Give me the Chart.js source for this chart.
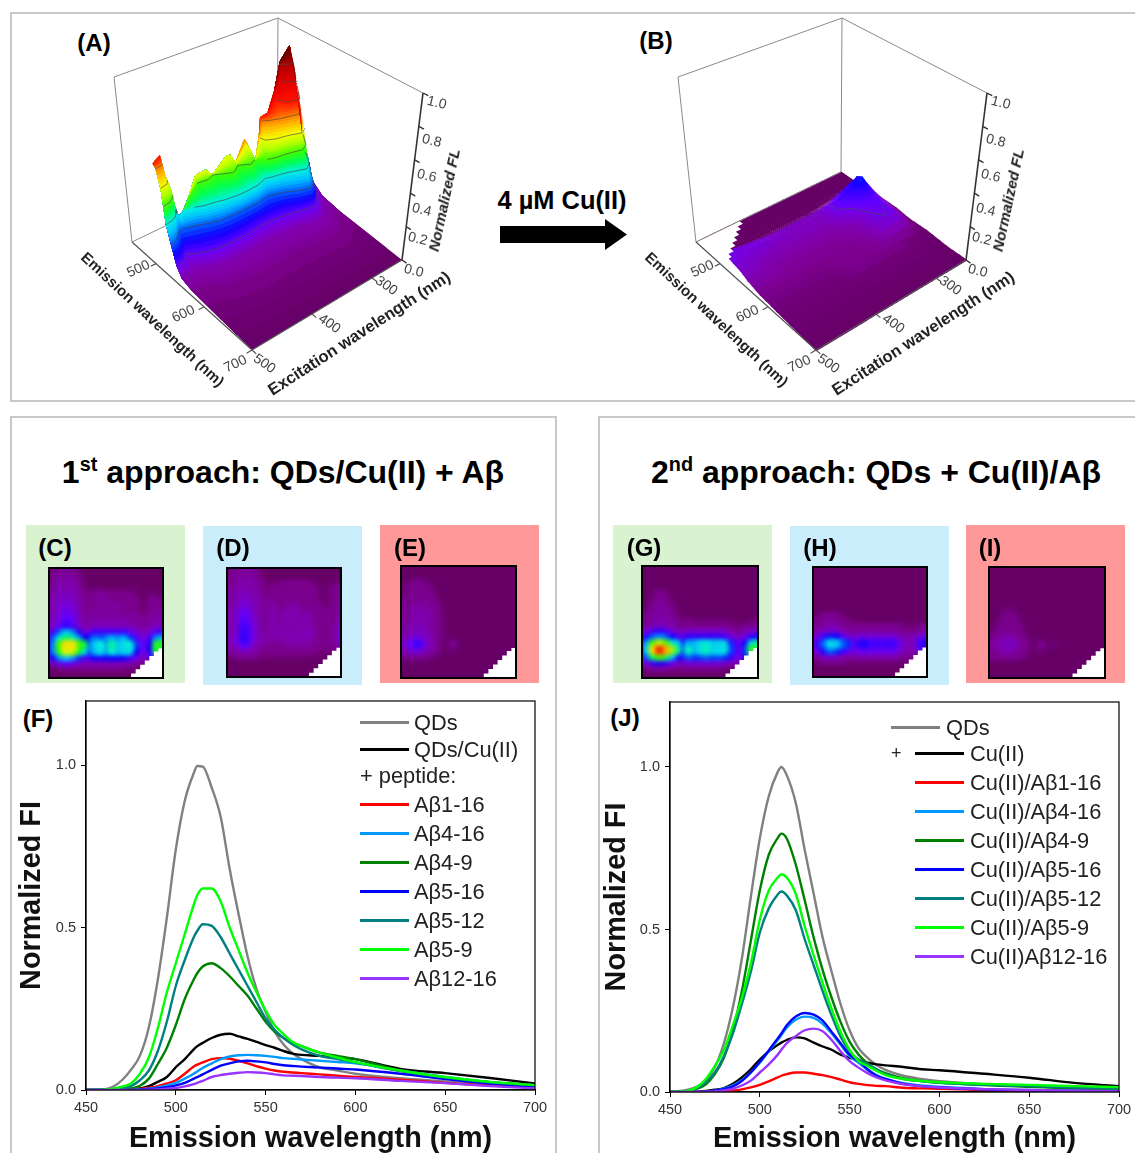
<!DOCTYPE html>
<html><head><meta charset="utf-8">
<script src="https://cdn.jsdelivr.net/npm/chart.js@4"></script>
<style>
html,body{margin:0;padding:0;background:#fff;overflow:hidden}
#page{position:relative;width:1135px;height:1153px;overflow:hidden;font-family:"Liberation Sans",Arial,sans-serif;color:#000}
.abs{position:absolute;box-sizing:border-box}
.t{position:absolute;white-space:nowrap;line-height:1;transform-origin:center}
canvas{position:absolute;display:block}
sup{font-size:62%;line-height:0}
</style></head><body><div id="page"></div>
<script>
/* ---------- spectra data ---------- */
const wavelengths=[450,460,465,470,475,480,485,490,495,500,505,510,512,515,520,525,530,535,540,545,550,555,560,565,570,580,590,600,625,650,675,700];
const F_QDs=[0,.002,.01,.03,.062,.105,.193,.34,.53,.74,.89,.975,.997,.995,.93,.84,.68,.54,.41,.31,.24,.18,.14,.113,.095,.07,.06,.05,.036,.026,.016,.01];
const F_QDsCu=[0,0,0,.001,.003,.005,.012,.025,.04,.07,.095,.125,.135,.145,.16,.17,.173,.165,.157,.148,.138,.13,.12,.112,.108,.105,.1,.095,.065,.052,.037,.02];
const F_A1_16=[0,0,0,0,.001,.003,.007,.012,.02,.03,.05,.072,.078,.085,.095,.098,.096,.09,.082,.073,.066,.06,.056,.054,.052,.048,.044,.04,.032,.022,.014,.01];
const F_A4_16=[0,0,0,0,.001,.002,.004,.008,.014,.022,.035,.05,.057,.068,.082,.095,.103,.107,.108,.107,.105,.102,.098,.096,.094,.09,.086,.082,.06,.04,.024,.012];
const F_A4_9=[0,0,.001,.002,.005,.013,.035,.08,.13,.2,.28,.34,.36,.38,.39,.375,.35,.32,.29,.25,.21,.18,.16,.145,.135,.115,.105,.095,.06,.036,.024,.015];
const F_A5_16=[0,0,0,0,0,.001,.003,.005,.009,.014,.022,.035,.04,.048,.062,.075,.082,.088,.09,.088,.085,.08,.076,.074,.072,.069,.066,.063,.05,.034,.02,.01];
const F_A5_12=[0,.001,.002,.005,.012,.03,.06,.12,.21,.32,.4,.47,.49,.51,.505,.47,.42,.37,.32,.27,.22,.185,.16,.14,.125,.105,.095,.085,.058,.038,.024,.014];
const F_A5_9=[0,.001,.004,.01,.02,.05,.1,.19,.3,.39,.48,.57,.6,.62,.62,.58,.5,.43,.36,.3,.245,.2,.172,.148,.135,.115,.1,.086,.06,.04,.025,.015];
const F_A12_16=[0,0,0,0,0,0,.001,.002,.004,.006,.011,.018,.022,.028,.04,.046,.05,.053,.055,.054,.052,.048,.045,.044,.043,.04,.038,.036,.028,.021,.012,.005];

const J_QDs=[0,.007,.017,.035,.077,.15,.26,.41,.6,.78,.91,.985,1,.975,.89,.745,.61,.475,.37,.27,.19,.135,.105,.083,.068,.05,.04,.033,.024,.018,.01,.005];
const J_Cu=[0,0,.001,.003,.007,.012,.025,.045,.07,.1,.125,.145,.152,.16,.168,.165,.152,.14,.13,.115,.105,.098,.09,.085,.082,.077,.07,.067,.056,.044,.028,.018];
const J_A1_16=[0,0,0,0,.001,.002,.004,.008,.014,.022,.033,.045,.05,.055,.06,.06,.056,.052,.046,.038,.03,.025,.021,.019,.018,.013,.011,.01,.006,.004,.002,.001];
const J_A4_16=[0,0,0,.001,.004,.01,.02,.036,.06,.09,.125,.16,.175,.198,.222,.232,.228,.21,.18,.145,.11,.09,.068,.052,.04,.027,.02,.016,.009,.006,.004,.002];
const J_A4_9=[0,.003,.01,.024,.055,.105,.19,.31,.465,.62,.73,.782,.795,.78,.7,.59,.475,.375,.29,.215,.155,.115,.088,.07,.058,.042,.034,.029,.021,.016,.012,.008];
const J_A5_16=[0,0,0,.001,.004,.009,.017,.034,.06,.093,.128,.165,.18,.205,.232,.243,.238,.22,.185,.15,.115,.095,.07,.05,.04,.025,.018,.014,.008,.005,.003,.002];
const J_A5_12=[0,.004,.012,.03,.06,.11,.18,.27,.37,.49,.565,.608,.617,.605,.56,.47,.39,.31,.235,.17,.125,.1,.085,.07,.055,.04,.033,.028,.022,.018,.014,.01];
const J_A5_9=[0,.004,.015,.04,.08,.13,.205,.29,.395,.53,.62,.66,.67,.66,.61,.51,.42,.335,.255,.185,.13,.095,.08,.065,.052,.04,.034,.03,.025,.022,.018,.015];
const J_A12_16=[0,0,0,0,.002,.005,.01,.02,.035,.06,.085,.115,.13,.15,.172,.19,.195,.187,.16,.125,.095,.075,.058,.045,.036,.024,.018,.014,.009,.006,.004,.002];

const colGrey='#808080',colBlack='#000000',colRed='#ff0000',colSky='#0099ff',colDkGreen='#008000',colBlue='#0000ff',colTeal='#008080',colLime='#00ff00',colPurple='#9933ff';
const F_names=['QDs','QDs/Cu(II)','Aβ1-16','Aβ4-16','Aβ4-9','Aβ5-16','Aβ5-12','Aβ5-9','Aβ12-16'];
const J_names=['QDs','Cu(II)','Cu(II)/Aβ1-16','Cu(II)/Aβ4-16','Cu(II)/Aβ4-9','Cu(II)/Aβ5-16','Cu(II)/Aβ5-12','Cu(II)/Aβ5-9','Cu(II)Aβ12-16'];
const seriesColors=[colGrey,colBlack,colRed,colSky,colDkGreen,colBlue,colTeal,colLime,colPurple];
const xTicks=[450,500,550,600,650,700], yTicks=[0,0.5,1];

/* ---------- 2D map data: rows emission 700→450 (12.5 nm), columns excitation 250→500 (12.5 nm), value ×100 ---------- */
const mapC=[[0,2,3,3,3,1],[0,3,3,4,3,2],[1,3,4,4,4,3,1],[1,3,5,5,5,3,2],
[2,4,5,5,5,4,2,1,1,2,1,1,1,1,1,1],[2,4,6,6,6,4,3,3,3,4,3,3,3,3,3,2,1,1,2,1,1],[3,5,6,7,6,5,3,3,3,4,3,3,3,3,3,3,1,1,3,3,2],
[3,5,7,8,7,5,3,3,3,4,4,3,4,3,3,3,2,1,3,3,3],[3,5,7,9,8,5,3,3,4,4,4,4,4,3,3,3,2,1,3,4,4],[3,6,8,10,9,6,4,4,4,4,4,4,4,4,4,4,3,3,4,4,4],
[4,6,8,11,9,6,4,4,5,5,5,5,5,5,4,4,4,3,4,5,5],[5,7,10,13,11,7,5,5,6,6,6,6,6,6,5,5,4,4,5,6,6],[7,12,20,26,22,14,8,9,12,12,12,12,12,12,10,8,6,6,8,11,12],
[10,20,30,34,31,23,15,15,21,19,21,24,21,24,18,11,8,8,12,22,24],[14,22,40,52,52,40,35,18,25,30,22,32,25,28,30,18,10,9,15,38,35],[12,22,38,48,46,36,28,17,24,28,22,30,24,27,28,15,9,8,14,36,38],
[9,15,23,26,23,17,11,11,15,13,15,15,15,15,12,9,6,6,10,18,20],[4,6,9,10,9,7,5,5,6,6,6,6,6,5,5,4,3,3,4,6,6],[0,1,2,3,3,3,3,3,3,3,3,3,3,3,2,2,1,1,1],[],[]];
const mapD=[[0,2,3,3,3,2],[1,3,3,4,4,3,1],[2,3,4,4,4,3,2],[2,3,4,5,5,4,3,1,2,2,3,3,3,3,3,2,1,0,1,2,2],
[2,4,5,5,5,4,3,2,3,3,3,3,3,3,3,3,2,1,2,3,3],[3,4,5,6,5,5,3,2,3,3,3,3,3,3,3,3,2,1,2,3,3],[3,4,5,7,6,5,4,3,3,3,3,3,3,3,3,3,2,1,2,3,3],
[3,4,6,8,6,5,4,3,4,3,3,4,4,3,3,3,3,2,2,3,4],[3,5,6,9,7,5,4,3,5,3,4,5,5,3,4,3,3,3,3,3,4],[3,5,7,10,8,5,4,3,5,3,5,5,5,4,5,3,3,3,3,3,4],
[3,5,7,11,8,6,4,3,5,3,5,5,5,4,5,4,3,3,3,3,5],[4,5,7,12,9,6,4,3,5,4,5,5,5,5,5,4,3,3,3,4,6],[4,5,7,12,9,6,4,4,5,5,5,5,5,5,6,4,3,3,3,4,6],
[4,6,8,13,9,6,5,4,4,4,5,5,5,5,5,4,3,3,3,4,6],[4,5,7,10,7,5,4,3,3,3,3,4,4,4,4,3,3,3,3,3,5],[3,4,5,6,5,4,3,3,3,3,3,3,3,3,3,3,2,2,2,3,3],
[1,2,3,3,3,3,2,2,2,2,2,2,2,2,2,1,1],[],[],[],[]];
const mapE=[[],[],[],[0,1,2,3,2,1],[0,2,3,3,3,2],[1,2,3,3,3,3,1],[2,3,3,3,3,3,2],[2,3,3,4,4,3,3,1],[2,3,4,5,4,4,3,1],[3,3,4,5,5,4,3,2],[3,3,4,5,5,4,3,2],
[3,4,5,6,5,4,3,2],[3,4,5,6,6,4,3,2],[4,5,7,8,6,5,3,2,0,1],[5,7,10,12,8,5,3,2,0,3],[4,5,7,7,5,4,3,1,0,1],[2,3,3,3,3,2,1],[0,1,1,1],[],[],[]];
const mapG=[[],[],[],[],[],[0,0,1,3,2],[0,0,2,3,3,1],[0,1,3,4,3,2],[0,2,3,4,4,3,1],[1,3,4,4,4,3,2],
[2,3,4,5,5,4,3,1,3,2,1,2,2,2,2,1,1,0,0,2,2],[3,4,5,6,5,5,3,3,3,3,3,3,3,3,3,3,2,2,3,3,3],[5,8,11,13,11,8,6,5,7,7,7,7,7,7,7,5,4,4,5,7,7],
[9,16,20,23,20,15,11,9,13,13,13,13,13,13,12,9,7,6,9,13,15],[11,24,40,46,40,30,26,15,24,24,28,30,27,27,28,17,11,9,15,28,32],[13,28,52,66,56,44,32,17,31,23,28,31,27,28,29,19,11,9,18,38,36],
[10,20,34,40,34,25,16,13,20,17,18,20,18,19,18,13,9,8,14,24,24],[5,8,12,14,12,9,7,6,8,8,8,8,8,8,7,6,5,4,5,6,6],[1,3,4,4,4,3,3,3,3,3,3,3,3,3,2,2,1,1],[],[]];
const mapH=[[],[],[],[],[],[],[],[],[],[0,1,3,3,3,2],[1,3,3,4,3,3,2,1],[3,3,4,5,5,3,3,3,3,3,3,3,3,3,3,3,2,1,2,3,3],
[3,5,6,7,7,5,4,3,4,4,4,4,4,4,4,3,3,3,3,4,4],[5,8,12,16,15,10,8,6,8,8,8,8,8,8,8,6,5,5,6,8,9],[6,12,20,28,26,20,17,9,12,14,11,12,11,12,12,9,6,5,7,12,14],
[5,9,14,20,17,12,10,7,9,9,9,9,9,9,9,7,5,5,5,9,10],[3,4,6,7,6,5,4,4,5,5,5,5,5,5,5,4,3,3,3,4,4],[1,2,3,3,3,3,2,2,2,2,2,2,2,2,2,2,1,1,1,1],[],[],[]];
const mapI=[[],[],[],[],[],[],[],[],[0,0,0,2,2],[0,0,1,3,3,1],[0,0,2,3,3,2],[0,1,3,3,3,3],[1,2,3,3,3,3,1],[2,3,4,5,5,3,3,1],[3,4,5,6,6,4,3,2,0,3,0,2],[3,3,4,5,4,3,3,1,0,2],[2,3,3,3,3,3,2],[],[],[],[]];
const stairEx=[501,430,430,440,440,450,450,460,460,470,470,480,480,490,490,501];
const stairEm=[449,449,460,460,470,470,480,480,490,490,500,500,510,510,517,517];

/* ---------- surface (A): excitation columns, ridge height, and emission position of each height contour ---------- */
const _=null;
const A_ex=[250,262,275,285,300,308,318,330,332,338,346,355,370,378,385,408,418,435,448,458,465,470,475,482,488,500];
const A_ridge=[.22,.41,.76,1,.92,.75,.63,.62,.51,.37,.45,.53,.41,.47,.475,.40,.45,.44,.33,.265,.25,.32,.43,.52,.65,.62];
const A_ridgeEm=510;
const A_c00=A_ex.map(()=>700);
const A_c03=[575,590,605,610,610,608,606,605,605,605,604,604,604,604,604,604,603,600,598,595,590,585,583,580,578,575];
const A_c05=[540,555,572,578,575,572,570,568,568,567,566,565,566,566,566,567,567,565,562,560,556,552,552,552,554,555];
const A_c10=[520,542,558,563,560,557,555,552,552,551,550,549,550,551,552,552,552,550,547,544,540,536,535,540,544,545];
const A_c20=[512,528,550,555,550,545,540,536,535,534,535,537,537,537,537,536,535,530,525,522,520,520,521,528,532,536];
const A_c30=[_,518,540,547,541,538,535,533,532,530,532,535,536,536,536,533,530,527,522,_,_,512,518,524,526,528];
const A_c40=[_,512,533,538,534,532,531,528,526,_,518,522,514,520,522,511,515,513,_,_,_,_,514,520,523,525];
const A_c50=[_,_,530,536,530,528,526,520,512,_,_,514,_,_,_,_,_,_,_,_,_,_,_,514,520,522];
const A_c60=[_,_,522,528,524,522,518,512,_,_,_,_,_,_,_,_,_,_,_,_,_,_,_,_,514,515];
const A_c70=[_,_,516,530,526,514,_,_,_,_,_,_,_,_,_,_,_,_,_,_,_,_,_,_,_,_];
const A_c80=[_,_,_,525,514,_,_,_,_,_,_,_,_,_,_,_,_,_,_,_,_,_,_,_,_,_];
const A_c90=[_,_,_,518,511,_,_,_,_,_,_,_,_,_,_,_,_,_,_,_,_,_,_,_,_,_];

/* ---------- surface (B): grid of heights ×100 ---------- */
const B_ex=[250,275,300,325,350,375,400,425,450,475,500];
const B_em=[450,465,480,490,500,510,520,530,545,560,585,620,660,700];
const B_z=[
[0,0,0,0,0,0,0,0,0,0,0],[0,0,0,0,0,0,0,0,0,0,0],[0,0,0,0,0,0,0,0,0,0,0],[0,2,1,0,0,0,0,0,0,0,1],
[0,7,5,3,2,2,2,2,2,3,4],[1,15,11,7,6,6,6,6,7,8,9],[2,17,13,10,6,6,6,7,8,8,9],[2,14,12,10,6,6,6,6,7,7,8],
[2,11,10,8,5,5,5,5,5,6,7],[2,10,9,5,4,4,4,4,4,5,5],[1,9,8,4,3,3,3,3,3,3,3],[1,2,3,3,3,3,2,2,2,2,2],[0,1,1,1,1,1,1,1,1,1,1],[0,0,0,0,0,0,0,0,0,0,0]];
const B_stairEx=[500,425,425,434,434,443,443,452,452,461,461,470,470,479,479,488,488,500];
const B_stairEm=[450,450,457,457,464,464,471,471,478,478,485,485,492,492,499,499,506,506];
const B_contourEx=[327,330,311,290,276];
const B_contourEm=[517,533,546,585,560];
const B_contourZ=0.1;

/* ---------- colour scale ---------- */
const cmapV=[0,.02,.03,.05,.08,.10,.15,.2,.25,.3,.35,.4,.45,.5,.55,.6,.65,.7,.8,.9,1];
const cmapC=['#660066','#700078','#7c0090','#8000b0','#7800dc','#6400ff','#1000ff','#0060ff','#00c0ff','#00f0e0','#00ff50','#40ff00','#b0ff00','#f0ff00','#ffc800','#ff8000','#ff4000','#ff1000','#e00000','#b00000','#600000'];
function hex(c){return [1,3,5].map(i=>parseInt(c.substr(i,2),16));}
function cmap(v){v=Math.max(0,Math.min(1,v));let i=0;while(i<cmapV.length-2&&v>cmapV[i+1])i++;
 const f=(v-cmapV[i])/(cmapV[i+1]-cmapV[i]),a=hex(cmapC[i]),b=hex(cmapC[i+1]);
 return 'rgb('+a.map((x,k)=>Math.round(x+(b[k]-x)*f)).join(',')+')';}

/* ---------- page furniture ---------- */
const page=document.getElementById('page');
function box(x,y,w,h,css){const d=document.createElement('div');d.className='abs';d.style.cssText=`left:${x}px;top:${y}px;width:${w}px;height:${h}px;`+(css||'');page.appendChild(d);return d;}
function text(s,cx,cy,size,opt){opt=opt||{};const d=document.createElement('div');d.className='t';d.innerHTML=s;
 d.style.cssText=`left:${cx}px;top:${cy}px;font-size:${size}px;font-weight:${opt.w||'normal'};font-style:${opt.i||'normal'};color:${opt.c||'#000'};`+
 `transform:translate(${opt.left?'0':'-50%'},-50%) rotate(${opt.r||0}deg);`;page.appendChild(d);return d;}
function mk(x,y,w,h){const c=document.createElement('canvas');c.width=w;c.height=h;c.style.left=x+'px';c.style.top=y+'px';c.style.width=w+'px';c.style.height=h+'px';page.appendChild(c);return c;}

box(10,12,1140,390,'border:2px solid #c8c8c8;');
box(10,416,547,760,'border:2px solid #c8c8c8;');
box(598,416,560,760,'border:2px solid #c8c8c8;');
text('1<sup>st</sup> approach: QDs/Cu(II) + Aβ',283,472,32,{w:'bold'});
text('2<sup>nd</sup> approach: QDs + Cu(II)/Aβ',876,472,32,{w:'bold'});
text('4 µM Cu(II)',562,201,25.4,{w:'bold'});
box(500,219,127,31,'background:#000;clip-path:polygon(0 7px,105px 7px,105px 0,127px 15.5px,105px 31px,105px 24px,0 24px);');
const bgGreen='#d9f2d0',bgBlue='#caedfb',bgRed='#ff9999';
[[26,525,159,158,bgGreen],[203,526,159,159,bgBlue],[380,525,159,158,bgRed],[613,525,159,158,bgGreen],[790,526,159,159,bgBlue],[966,525,159,158,bgRed]].forEach(b=>box(b[0],b[1],b[2],b[3],'background:'+b[4]));

/* ---------- heat maps ---------- */
const heatBlur={id:'heatBlur',
 beforeDatasetDraw(ch,a){if(ch.data.datasets[a.index].heat){ch.ctx.save();ch.ctx.filter='blur(1.9px)';}},
 afterDatasetDraw(ch,a){if(ch.data.datasets[a.index].heat){ch.ctx.restore();}}};
function heat(rows,x,y,w,h){
 box(x,y,w,h,'background:#660066;');
 const c=mk(x,y,w,h);
 const pts=[];
 for(let r=0;r<21;r++)for(let k=0;k<21;k++){const v=(rows[r]&&rows[r][k])||0;if(v>0)pts.push({x:250+12.5*k,y:700-12.5*r,v:v/100});}
 pts.sort((a,b)=>a.v-b.v);
 new Chart(c,{type:'line',data:{datasets:[
  {data:stairEx.map((e,i)=>({x:e,y:stairEm[i]})),fill:'shape',backgroundColor:'#fff',borderColor:'#fff',borderWidth:0,pointRadius:0,tension:0},
  {heat:true,data:pts,showLine:false,pointStyle:'rect',pointRadius:6.2,pointBorderWidth:0,pointBackgroundColor:pts.map(p=>cmap(p.v))}
 ]},options:{responsive:false,animation:false,events:[],layout:{padding:0,autoPadding:false},plugins:{legend:{display:false},tooltip:{enabled:false}},
  scales:{x:{type:'linear',display:false,min:250,max:500},y:{type:'linear',display:false,min:450,max:700}}},plugins:[heatBlur]});
 box(x-1,y-1,w+2,h+2,'border:2px solid #000;');
}
heat(mapC,49,568,114,110);heat(mapD,227,568,114,109);heat(mapE,401,566,115,112);
heat(mapG,642,566,116,112);heat(mapH,813,567,114,110);heat(mapI,989,567,116,111);
[['(C)',55,548],['(D)',233,548],['(E)',410,548],['(G)',644,548],['(H)',820,548],['(I)',990,548],['(A)',94,43],['(B)',656,41],['(F)',38,719],['(J)',625,718]].forEach(l=>text(l[0],l[1],l[2],24,{w:'bold'}));

/* ---------- 3-D projection ---------- */
const cB=[277,172],cR=[402,260],cL=[132,242],cF=[252,350];
const uB=[1,-154],uR=[21,-167],uL=[-18,-165],uF=[2,-180];
function bil(a,b,c,d,s,t){return [0,1].map(i=>(1-s)*(1-t)*a[i]+(1-s)*t*b[i]+s*(1-t)*c[i]+s*t*d[i]);}
function project(ex,em,z){const s=(ex-250)/250,t=(em-450)/250,p=bil(cB,cR,cL,cF,s,t),u=bil(uB,uR,uL,uF,s,t);return {x:p[0]+z*u[0],y:p[1]+z*u[1]};}
function lineDs(pts,color,w){return {data:pts,borderColor:color,borderWidth:w,pointRadius:0,tension:0,fill:false,spanGaps:false};}
function polyDs(pts,color){return {data:pts,borderColor:color,backgroundColor:color,borderWidth:0,pointRadius:0,tension:0,fill:'shape'};}
function backBox(){const d=[];const c='#8a8a8a';
 d.push(lineDs([project(500,450,0),project(500,450,1)],c,1));
 d.push(lineDs([project(500,450,1),project(250,450,1)],c,1));
 d.push(lineDs([project(250,450,1),project(250,700,1)],c,1));
 d.push(lineDs([project(250,450,0),project(250,450,1)],c,1));
 d.push(lineDs([project(500,450,0),project(250,450,0)],c,1));
 return d;}
function frontAxes(){const d=[];const c='#555555',k='#333333';
 d.push(lineDs([project(500,450,0),project(500,700,0)],c,1.2));
 d.push(lineDs([project(500,700,0),project(250,700,0)],c,1.2));
 d.push(lineDs([project(250,700,0),project(250,700,1)],k,1.6));
 [500,600,700].forEach(e=>d.push(lineDs([project(500,e,0),project(509,e,0)],c,1.2)));
 [500,400,300].forEach(e=>d.push(lineDs([project(e,700,0),project(e,709,0)],c,1.2)));
 [0,.2,.4,.6,.8,1].forEach(z=>d.push(lineDs([project(250,700,z),project(250,709,z)],k,1.4)));
 return d;}
function surfChart(x,datasets){const c=mk(x,15,400,385);c.style.filter='blur(0.45px)';
 new Chart(c,{type:'line',data:{datasets:datasets.slice().reverse()},options:{responsive:false,animation:false,events:[],layout:{padding:0,autoPadding:false},
  plugins:{legend:{display:false},tooltip:{enabled:false}},
  scales:{x:{type:'linear',display:false,min:60,max:460},y:{type:'linear',display:false,min:15,max:400,reverse:true}}}});}

/* A */
(function(){
 const lev=[0,.03,.05,.1,.2,.3,.4,.5,.6,.7,.8,.9,1];
 const rows=[A_c00,A_c03,A_c05,A_c10,A_c20,A_c30,A_c40,A_c50,A_c60,A_c70,A_c80,A_c90,A_ex.map(()=>null)];
 const pt=(k,i)=>{const v=rows[k][i];return (v==null||A_ridge[i]<lev[k])?project(A_ex[i],A_ridgeEm,A_ridge[i]):project(A_ex[i],v,lev[k]);};
 const last=A_ex.length-1,T=lev.length-1;
 const d=backBox();
 for(let k=0;k<T;k++){const n=lev[k]>=.1?6:4;
  for(let q=0;q<n;q++){const f0=q/n,path=[];
   A_ex.forEach((e,i)=>{const a=pt(k,i),b=pt(k+1,i);path.push({x:a.x+(b.x-a.x)*f0,y:a.y+(b.y-a.y)*f0});});
   for(let j=k+1;j<T;j++)path.push(pt(j,last));
   for(let i=last;i>=0;i--)path.push(pt(T,i));
   for(let j=T-1;j>k;j--)path.push(pt(j,0));
   d.push(polyDs(path,cmap(lev[k]+(lev[k+1]-lev[k])*(q+.5)/n)));
  }}
 for(let k=3;k<T;k++){
  const pts=A_ex.map((e,i)=>(rows[k][i]==null||A_ridge[i]<lev[k])?{x:null,y:null}:project(e,rows[k][i],lev[k]));
  d.push(lineDs(pts,'rgba(70,70,70,.8)',.8));
 }
 surfChart(60,d.concat(frontAxes()));
})();
/* B */
(function(){
 const d=[],N=3;
 for(let r=0;r<B_em.length-1;r++)for(let c=0;c<B_ex.length-1;c++){
  for(let a=0;a<N;a++)for(let b=0;b<N;b++){
   const f=(u,v)=>{const e=B_ex[c]+(B_ex[c+1]-B_ex[c])*u,m=B_em[r]+(B_em[r+1]-B_em[r])*v;
    const z=((1-u)*(1-v)*B_z[r][c]+u*(1-v)*B_z[r][c+1]+(1-u)*v*B_z[r+1][c]+u*v*B_z[r+1][c+1])/100;return {e,m,z};};
   const P=[f(a/N,b/N),f((a+1)/N,b/N),f((a+1)/N,(b+1)/N),f(a/N,(b+1)/N)];
   const zm=P.reduce((s,p)=>s+p.z,0)/4;
   const Q=P.map(p=>project(p.e,p.m,p.z));
   const cx=Q.reduce((s,p)=>s+p.x,0)/4,cy=Q.reduce((s,p)=>s+p.y,0)/4;
   d.push(polyDs(Q.map(p=>({x:cx+(p.x-cx)*1.25,y:cy+(p.y-cy)*1.25})),cmap(zm)));
  }}
 d.push(polyDs(B_stairEx.map((e,i)=>project(e,B_stairEm[i],0)).concat([project(515,520,0),project(515,440,0),project(420,440,0)]),'#ffffff'));
 d.push(lineDs(B_contourEx.map((e,i)=>project(e,B_contourEm[i],B_contourZ)),'rgba(70,70,90,.8)',.8));
 surfChart(624,d.concat(backBox()).concat(frontAxes()));
})();
/* 3-D axis text */
[0,564].forEach(o=>{
 const gc='#444';
 [['1.0',437,102],['0.8',432,140],['0.6',427,175],['0.4',422,209],['0.2',418,238],['0.0',414,270]].forEach(l=>text(l[0],l[1]+o,l[2],14,{c:gc,r:14}));
 [['500',138,268],['600',183,313],['700',235,363]].forEach(l=>text(l[0],l[1]+o,l[2],14,{c:gc,r:-25}));
 [['500',265,363],['400',330,323],['300',387,285]].forEach(l=>text(l[0],l[1]+o,l[2],14,{c:gc,r:35}));
 text('Emission wavelength (nm)',153+o,319,15,{w:'bold',r:43,c:'#222'});
 text('Excitation wavelength (nm)',359+o,333,16.5,{w:'bold',r:-33,c:'#222'});
 text('Normalized FL',444+o,200,15.2,{w:'bold',i:'italic',r:-78,c:'#222'});
});

/* ---------- line charts ---------- */
const frame={id:'frame',afterDraw(ch){const a=ch.chartArea,c=ch.ctx;c.save();c.strokeStyle='#000';c.lineWidth=1.2;c.strokeRect(a.left,a.top,a.right-a.left,a.bottom-a.top);c.restore();}};
function spectra(x0,top,plotL,plotT,plotR,plotB,ser){
 const padR=20;
 const W=plotR+padR-x0,H=1156-top;
 const c=mk(x0,top,W,H);
 const datasets=ser.map((s,i)=>({data:s.map((v,k)=>({x:wavelengths[k],y:v})),borderColor:seriesColors[i],borderWidth:2.4,pointRadius:0,cubicInterpolationMode:'monotone',fill:false})).reverse();
 const tickFont={family:'"Liberation Sans",Arial,sans-serif',size:14.5};
 const titleFont={family:'"Liberation Sans",Arial,sans-serif',size:28.8,weight:'bold'};
 new Chart(c,{type:'line',data:{datasets},options:{responsive:false,animation:false,events:[],
  layout:{padding:{top:plotT-top,right:padR,left:0,bottom:0}},
  plugins:{legend:{display:false},tooltip:{enabled:false}},
  scales:{
   x:{type:'linear',min:450,max:700,afterFit:s=>{s.height=H-(plotB-top);},
    afterBuildTicks:s=>{s.ticks=xTicks.map(v=>({value:v}));},
    grid:{display:true,drawOnChartArea:false,tickLength:5,color:'#000',tickColor:'#000'},border:{color:'#000',width:1.2},
    ticks:{color:'#333',font:tickFont,padding:4,maxRotation:0,autoSkip:false,callback:v=>String(v)},
    title:{display:true,text:'Emission wavelength (nm)',color:'#111',font:titleFont,padding:{top:0,bottom:0}}},
   y:{type:'linear',min:0,max:(plotB-plotT)/325,afterFit:s=>{s.width=plotL-x0;},
    afterBuildTicks:s=>{s.ticks=yTicks.map(v=>({value:v}));},
    grid:{display:true,drawOnChartArea:false,tickLength:5,color:'#000',tickColor:'#000'},border:{color:'#000',width:1.2},
    ticks:{color:'#333',font:tickFont,padding:5,callback:v=>v.toFixed(1)},
    title:{display:true,text:'Normalized FI',color:'#111',font:titleFont,padding:{top:0,bottom:0}}}
  }},plugins:[frame]});
}
spectra(15,680,86,701,535,1090,[F_QDs,F_QDsCu,F_A1_16,F_A4_16,F_A4_9,F_A5_16,F_A5_12,F_A5_9,F_A12_16]);
spectra(600,680,670,702,1119,1092,[J_QDs,J_Cu,J_A1_16,J_A4_16,J_A4_9,J_A5_16,J_A5_12,J_A5_9,J_A12_16]);

/* legends */
function legRow(lx,tx,y,name,col){box(lx,y-1.5,49,3,'background:'+col);text(name,tx,y+.5,21.8,{left:true,c:'#222'});}
const F_rows=[722,749,804,833,862,891,920,949,978];
F_names.forEach((n,i)=>legRow(360,414,F_rows[i],n,seriesColors[i]));
text('+ peptide:',360,776,21.8,{left:true,c:'#222'});
const J_rows=[727,753,782,811,840,869,898,927,956];
J_names.forEach((n,i)=>legRow(i==0?891:915,i==0?946:970,J_rows[i],n,seriesColors[i]));
text('+',891,753,18,{left:true,c:'#222'});
</script></body></html>
